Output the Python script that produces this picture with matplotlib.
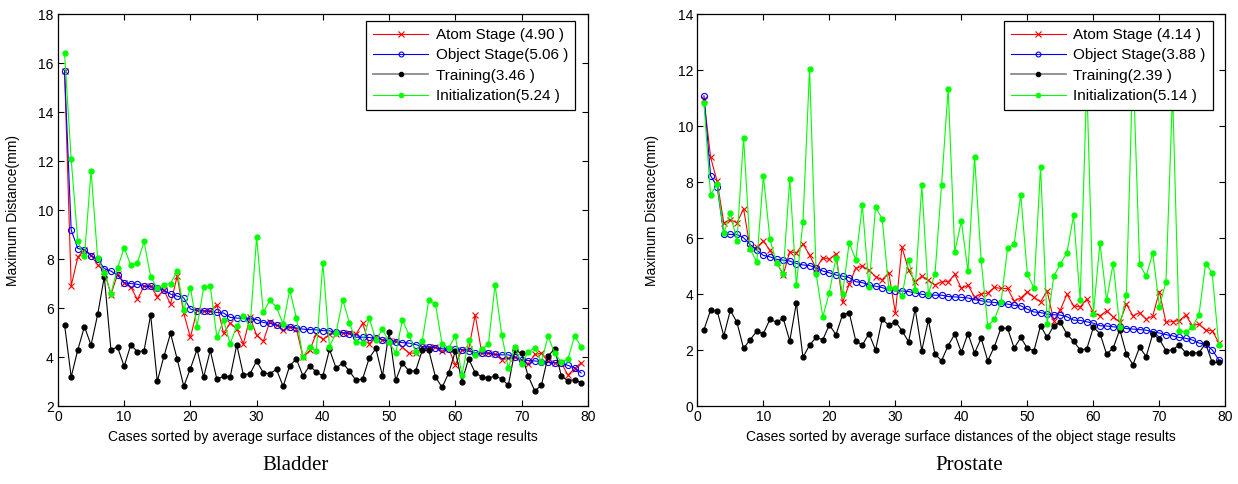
import numpy as np
import matplotlib
matplotlib.use('Agg')
import matplotlib.pyplot as plt
from matplotlib.lines import Line2D

plt.rcParams['font.family'] = ['Liberation Sans', 'DejaVu Sans']
plt.rcParams['font.size'] = 10

# Bladder (left)
bl_atom = [15.69, 6.9, 8.08, 8.39, 8.15, 7.76, 7.51, 6.55, 7.38, 7.04, 6.86, 6.35, 6.89, 6.89, 6.47, 6.73,
           6.16, 7.3, 5.78, 4.8, 5.92, 5.89, 5.89, 6.14, 4.97, 5.38, 5.16, 4.54, 5.62, 4.89, 4.64, 5.45,
           5.31, 5.11, 5.24, 5.16, 4.0, 4.27, 4.95, 4.72, 4.93, 4.96, 4.99, 4.97, 4.93, 5.38, 4.54, 4.81,
           4.7, 4.65, 4.65, 4.41, 4.16, 4.16, 4.41, 4.43, 4.41, 4.24, 4.34, 3.68, 4.3, 4.31, 5.72, 4.16,
           4.18, 4.11, 3.89, 3.95, 4.0, 3.86, 3.73, 4.11, 4.16, 3.82, 3.76, 3.77, 3.26, 3.53, 3.77]
bl_object = [15.68, 9.18, 8.43, 8.38, 8.14, 7.99, 7.61, 7.51, 7.34, 7.03, 7.0, 6.97, 6.89, 6.89, 6.81, 6.73,
             6.57, 6.49, 6.41, 5.96, 5.89, 5.88, 5.86, 5.82, 5.8, 5.62, 5.59, 5.58, 5.57, 5.53, 5.41, 5.38,
             5.3, 5.24, 5.23, 5.19, 5.14, 5.12, 5.11, 5.08, 5.07, 5.01, 4.99, 4.95, 4.81, 4.81, 4.8, 4.76,
             4.7, 4.65, 4.62, 4.59, 4.57, 4.51, 4.43, 4.41, 4.38, 4.34, 4.32, 4.31, 4.3, 4.24, 4.18, 4.16,
             4.16, 4.11, 4.09, 4.09, 4.0, 3.89, 3.86, 3.84, 3.81, 3.78, 3.77, 3.76, 3.66, 3.57, 3.35]
bl_training = [5.32, 3.19, 4.3, 5.24, 4.49, 5.74, 7.28, 4.3, 4.41, 3.62, 4.5, 4.22, 4.26, 5.72, 3.01, 4.03,
               4.97, 3.92, 2.81, 3.53, 4.31, 3.18, 4.27, 3.09, 3.22, 3.18, 4.5, 3.28, 3.32, 3.84, 3.36, 3.32,
               3.5, 2.8, 3.65, 3.92, 3.23, 3.65, 3.39, 3.23, 4.31, 3.55, 3.76, 3.43, 3.05, 3.11, 3.96, 4.35,
               3.23, 5.03, 3.05, 3.76, 3.43, 3.43, 4.27, 4.27, 3.19, 2.76, 3.35, 4.24, 2.99, 3.93, 3.36, 3.19,
               3.14, 3.23, 3.11, 2.85, 4.27, 4.16, 3.22, 2.62, 2.85, 4.04, 4.34, 3.23, 3.03, 3.08, 2.95]
bl_init = [16.42, 12.07, 8.72, 8.11, 11.59, 8.03, 7.45, 6.59, 7.63, 8.47, 7.74, 7.84, 8.72, 7.28, 6.81, 6.96,
           7.0, 7.51, 5.92, 6.83, 5.24, 6.84, 6.89, 4.81, 5.51, 4.54, 5.28, 5.68, 5.22, 8.89, 5.82, 6.32,
           6.03, 5.35, 6.74, 5.59, 4.0, 4.43, 4.24, 7.84, 4.43, 5.0, 6.34, 5.41, 4.62, 4.58, 5.59, 4.7,
           5.14, 4.61, 4.16, 5.51, 4.91, 4.22, 4.66, 6.34, 6.16, 4.53, 4.38, 4.85, 3.26, 4.68, 4.07, 4.31,
           4.54, 6.95, 4.91, 3.55, 4.43, 3.73, 4.2, 4.38, 3.8, 4.85, 4.16, 3.8, 3.92, 4.85, 4.43]
bl_means = ['4.90', '5.06', '3.46', '5.24']

# Prostate (right)
pr_atom = [10.96, 8.89, 8.02, 6.54, 6.66, 6.54, 7.05, 5.63, 5.68, 5.89, 5.56, 5.15, 4.68, 5.51, 5.47, 5.79,
           5.39, 4.91, 5.3, 5.24, 5.44, 3.7, 4.35, 4.92, 5.0, 4.85, 4.62, 4.51, 4.76, 3.34, 5.68, 4.85,
           4.44, 4.64, 4.49, 4.32, 4.44, 4.44, 4.7, 4.2, 4.32, 3.9, 4.0, 4.04, 4.24, 4.2, 4.2, 3.75,
           3.86, 4.08, 3.88, 3.72, 4.11, 3.05, 3.44, 3.99, 3.58, 3.54, 3.82, 3.34, 3.22, 3.4, 3.19, 2.99,
           3.64, 3.22, 3.34, 3.1, 3.22, 4.09, 2.99, 3.02, 3.05, 3.25, 2.87, 2.93, 2.71, 2.69, 2.27]
pr_object = [11.08, 8.23, 7.84, 6.16, 6.13, 6.13, 6.01, 5.77, 5.57, 5.38, 5.33, 5.24, 5.21, 5.18, 5.09, 5.04,
             5.02, 4.94, 4.82, 4.76, 4.68, 4.64, 4.59, 4.44, 4.41, 4.32, 4.28, 4.23, 4.16, 4.11, 4.11, 4.09,
             4.04, 3.99, 3.97, 3.96, 3.96, 3.91, 3.9, 3.88, 3.86, 3.8, 3.76, 3.72, 3.7, 3.67, 3.64, 3.6,
             3.58, 3.46, 3.36, 3.34, 3.28, 3.26, 3.25, 3.19, 3.07, 3.06, 3.01, 2.96, 2.87, 2.86, 2.83, 2.81,
             2.77, 2.75, 2.73, 2.71, 2.65, 2.61, 2.55, 2.51, 2.45, 2.42, 2.36, 2.25, 2.21, 2.01, 1.65]
pr_training = [2.73, 3.42, 3.4, 2.51, 3.42, 2.99, 2.06, 2.37, 2.67, 2.59, 3.1, 2.99, 3.14, 2.33, 3.68, 1.74,
               2.18, 2.45, 2.37, 2.9, 2.55, 3.26, 3.34, 2.33, 2.18, 2.59, 2.0, 3.1, 2.89, 3.02, 2.69, 2.3,
               3.46, 1.98, 3.07, 1.86, 1.62, 2.16, 2.57, 1.92, 2.59, 1.9, 2.42, 1.62, 2.12, 2.78, 2.78, 2.07,
               2.45, 2.06, 1.98, 2.87, 2.45, 2.87, 2.99, 2.57, 2.31, 2.01, 2.04, 2.81, 2.59, 1.86, 2.07, 2.73,
               1.86, 1.48, 2.1, 1.77, 2.57, 2.39, 1.98, 2.01, 2.18, 1.9, 1.9, 1.9, 2.24, 1.56, 1.56]
pr_init = [10.81, 7.55, 7.93, 6.18, 6.88, 5.89, 9.59, 5.62, 5.14, 8.23, 5.95, 5.12, 4.73, 8.12, 4.32, 6.58,
           12.05, 4.7, 3.19, 4.05, 5.3, 4.0, 5.83, 5.23, 7.17, 4.25, 7.1, 6.69, 4.23, 4.23, 3.93, 5.23,
           4.16, 7.88, 4.02, 4.7, 7.9, 11.34, 5.51, 6.6, 4.82, 8.89, 5.2, 2.87, 3.1, 3.7, 5.63, 5.79,
           7.55, 4.7, 4.21, 8.55, 2.93, 4.64, 5.08, 5.47, 6.81, 3.78, 11.6, 3.3, 5.83, 3.78, 5.09, 2.83,
           3.96, 12.3, 5.06, 4.64, 5.47, 3.55, 4.44, 11.2, 2.69, 2.63, 2.83, 3.26, 5.09, 4.76, 2.18]
pr_means = ['4.14', '3.88', '2.39', '5.14']

RED, BLUE, GREEN = '#ff0000', '#0000ff', '#00ff00'
LW = 0.8


def draw_panel(ax, atom, obj, train, init, means, ylim, caption_x, caption):
    x = np.arange(1, len(obj) + 1)
    ax.plot(x, atom, color=RED, lw=LW, marker='x', ms=4.5, mew=0.8)
    ax.plot(x, obj, color=BLUE, lw=LW, marker='o', ms=4.4, mfc='none', mew=0.8)
    ax.plot(x, train, color='black', lw=LW, marker='.', ms=7)
    ax.plot(x, init, color=GREEN, lw=LW, marker='.', ms=7)

    ax.set_xlim(0, 80)
    ax.set_ylim(*ylim)
    ax.set_xticks(range(0, 81, 10))
    ax.set_yticks(range(ylim[0], ylim[1] + 1, 2))
    ax.tick_params(direction='in', top=True, right=True, length=4, width=0.8, pad=3)
    for s in ax.spines.values():
        s.set_linewidth(0.9)

    ax.set_xlabel('Cases sorted by average surface distances of the object stage results')
    ax.xaxis.set_label_coords(0.5, -0.062)
    ax.set_ylabel('Maximum Distance(mm)')
    ax.yaxis.set_label_coords(-0.072, 0.5)

    # legend proxies, the Training line is drawn grey in the original
    handles = [Line2D([], [], color=RED, lw=LW, marker='x', ms=4, mew=0.8),
               Line2D([], [], color=BLUE, lw=LW, marker='o', ms=3.5, mfc='none', mew=0.8),
               Line2D([], [], color='#808080', lw=1.2, marker='.', ms=6, mfc='black', mec='black'),
               Line2D([], [], color=GREEN, lw=LW, marker='.', ms=6)]
    labels = [f'Atom Stage ({means[0]} )', f'Object Stage({means[1]} )',
              f'Training({means[2]} )', f'Initialization({means[3]} )']
    leg = ax.legend(handles, labels, loc='upper right', bbox_to_anchor=(0.976, 0.982),
                    borderaxespad=0, fancybox=False, framealpha=1, edgecolor='black',
                    handlelength=3.6, labelspacing=0.42, borderpad=0.45, handletextpad=0.5,
                    fontsize=11)
    leg.get_frame().set_linewidth(0.9)

    ax.figure.text(caption_x, 0.038, caption, ha='center', va='center',
                   family='Liberation Serif', fontsize=15)


fig = plt.figure(figsize=(12.38, 4.84), dpi=100)
ax1 = fig.add_axes([0.0468, 0.161, 0.428, 0.81])
ax2 = fig.add_axes([0.5633, 0.161, 0.4265, 0.81])

draw_panel(ax1, bl_atom, bl_object, bl_training, bl_init, bl_means, (2, 18), 0.239, 'Bladder')
draw_panel(ax2, pr_atom, pr_object, pr_training, pr_init, pr_means, (0, 14), 0.783, 'Prostate')

fig.savefig('out.png', dpi=100)
